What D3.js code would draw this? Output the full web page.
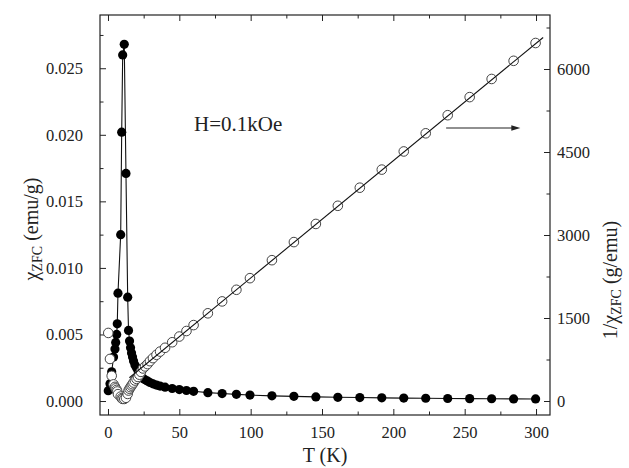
<!DOCTYPE html>
<html><head><meta charset="utf-8">
<script src="https://cdn.jsdelivr.net/npm/d3@7/dist/d3.min.js"></script>
<style>
html,body{margin:0;padding:0;background:#fff;}
svg{display:block;}
text{font-family:'Liberation Serif','Times New Roman',Times,Tinos,'DejaVu Serif','Noto Serif',serif;fill:#222;}
</style></head>
<body>
<svg id="chart" width="629" height="468"></svg>
<script>
// ---- data ----
const temps = [0.2,1.4,2.6,3.9,4.9,5.4,6.1,6.5,7.0,8.9,9.6,10.3,11.4,12.6,13.8,14.4,15.1,15.8,16.5,17.2,17.9,18.9,20.0,21.0,22.0,23.1,24.5,26.0,27.7,29.4,31.5,34.0,36.5,40,45,50,55,60,70,80,90,99.5,114.9,130.3,145.7,161.1,176.5,191.9,207.3,222.7,238.1,253.5,268.9,284.3,299.7];
const chiZFC = [0.00078,0.0013,0.0022,0.0033,0.0039,0.0044,0.0050,0.0058,0.0081,0.0125,0.0202,0.0260,0.0268,0.0171,0.0078,0.0053,0.0045,0.0040,0.0036,0.0033,0.0030,0.0027,0.0025,0.0023,0.0021,0.0019,0.0017,0.0016,0.0015,0.00139,0.00129,0.0012,0.00112,0.00104,0.00094,0.00086,0.00079,0.00073,0.00063,0.00056,0.0005,0.00045,0.00039,0.00035,0.00031,0.00028,0.00026,0.00024,0.00022,0.00021,0.00019,0.00018,0.00017,0.00016,0.000155];
const invChi = [1230,760,455,300,255,228,200,172,124,80,50,38,37,58,128,189,222,250,278,303,333,370,400,435,476,526,588,625,667,720,775,835,893,962,1062,1165,1265,1372,1585,1800,2010,2220,2545,2872,3200,3528,3855,4182,4510,4838,5165,5492,5820,6148,6470];
const fitT = [15, 305];
const fitInv = [420, 6570];
const xTicks = [0,50,100,150,200,250,300];
const xMinor = [25,75,125,175,225,275];
const yLTicks = [0,0.005,0.010,0.015,0.020,0.025];
const yLMinor = [0.0025,0.0075,0.0125,0.0175,0.0225,0.0275];
const yRTicks = [0,1500,3000,4500,6000];
const yRMinor = [750,2250,3750,5250,6750];
const annText = "H=0.1kOe";
const annPos = [60.3, 0.0203];        // T, chi
const arrowT = [237, 289];           // T range
const arrowInv = 4934;               // 1/chi level

// ---- layout ----
const FONT = "'Liberation Serif','Times New Roman',Times,Tinos,'DejaVu Serif','Noto Serif',serif";
const L = 100, R = 550, T0 = 15, B = 415;
const svg = d3.select("#chart");
const x = d3.scaleLinear().domain([-5.6, 309.8]).range([L, R]);
const yL = d3.scaleLinear().domain([-0.00105, 0.0290]).range([B, T0]);
const yR = d3.scaleLinear().domain([-253, 6976]).range([B, T0]);

const FS = 16.5;
function styleAxis(g){
  g.attr("font-family", FONT).attr("font-size", FS);
  g.select(".domain").remove();
  g.selectAll(".tick line").attr("stroke","#222").attr("stroke-width",1);
  g.selectAll(".tick text").attr("fill","#222");
}
// bottom
svg.append("g").attr("transform",`translate(0,${B})`)
  .call(d3.axisBottom(x).tickValues(xTicks).tickSize(-6).tickSizeOuter(0).tickPadding(11).tickFormat(d3.format("d"))).call(styleAxis);
svg.append("g").attr("transform",`translate(0,${B})`)
  .call(d3.axisBottom(x).tickValues(xMinor).tickSize(-3.5).tickSizeOuter(0).tickFormat("")).call(styleAxis);
// top
svg.append("g").attr("transform",`translate(0,${T0})`)
  .call(d3.axisTop(x).tickValues(xTicks).tickSize(-6).tickSizeOuter(0).tickFormat("")).call(styleAxis);
svg.append("g").attr("transform",`translate(0,${T0})`)
  .call(d3.axisTop(x).tickValues(xMinor).tickSize(-3.5).tickSizeOuter(0).tickFormat("")).call(styleAxis);
// left
svg.append("g").attr("transform",`translate(${L},0)`)
  .call(d3.axisLeft(yL).tickValues(yLTicks).tickSize(-6).tickSizeOuter(0).tickPadding(17).tickFormat(d3.format(".3f"))).call(styleAxis);
svg.append("g").attr("transform",`translate(${L},0)`)
  .call(d3.axisLeft(yL).tickValues(yLMinor).tickSize(-3.5).tickSizeOuter(0).tickFormat("")).call(styleAxis);
// right
svg.append("g").attr("transform",`translate(${R},0)`)
  .call(d3.axisRight(yR).tickValues(yRTicks).tickSize(-6).tickSizeOuter(0).tickPadding(7).tickFormat(d3.format("d"))).call(styleAxis);
svg.append("g").attr("transform",`translate(${R},0)`)
  .call(d3.axisRight(yR).tickValues(yRMinor).tickSize(-3.5).tickSizeOuter(0).tickFormat("")).call(styleAxis);

// frame
svg.append("rect").attr("x",L).attr("y",T0).attr("width",R-L).attr("height",B-T0)
  .attr("fill","none").attr("stroke","#222").attr("stroke-width",1.2);

const data = temps.map((t,i)=>({t, c:chiZFC[i], inv:invChi[i]}));

// chi line + filled points
svg.append("path").datum(data)
  .attr("d", d3.line().x(d=>x(d.t)).y(d=>yL(d.c)))
  .attr("fill","none").attr("stroke","#111").attr("stroke-width",1.1);
svg.append("g").selectAll("circle").data(data).join("circle")
  .attr("cx",d=>x(d.t)).attr("cy",d=>yL(d.c)).attr("r",4.6).attr("fill","#000");

// 1/chi open points
svg.append("g").selectAll("circle").data(data).join("circle")
  .attr("cx",d=>x(d.t)).attr("cy",d=>yR(d.inv)).attr("r",4.8)
  .attr("fill","#fff").attr("stroke","#444").attr("stroke-width",1);

// Curie-Weiss fit line
svg.append("path").datum(fitT.map((t,i)=>({t, v:fitInv[i]})))
  .attr("d", d3.line().x(d=>x(d.t)).y(d=>yR(d.v)))
  .attr("fill","none").attr("stroke","#111").attr("stroke-width",1.1);

// annotation
svg.append("text").attr("x",x(annPos[0])).attr("y",yL(annPos[1]))
  .attr("font-family",FONT).attr("font-size",21).text(annText);
const ay = yR(arrowInv), ax0 = x(arrowT[0]), ax1 = x(arrowT[1]);
svg.append("line").attr("x1",ax0).attr("x2",ax1-6).attr("y1",ay).attr("y2",ay)
  .attr("stroke","#222").attr("stroke-width",1.2);
svg.append("path").attr("d",`M${ax1},${ay} L${ax1-9},${ay-2.8} L${ax1-9},${ay+2.8} Z`).attr("fill","#222");

// axis titles
svg.append("text").attr("x",(L+R)/2).attr("y",462).attr("text-anchor","middle")
  .attr("font-family",FONT).attr("font-size",20).text("T (K)");
const lt = svg.append("text").attr("transform","translate(38,229) rotate(-90)")
  .attr("text-anchor","middle").attr("font-family",FONT).attr("font-size",20);
lt.append("tspan").text("χ");
lt.append("tspan").attr("dy",4).attr("font-size",14).text("ZFC");
lt.append("tspan").attr("dy",-4).text(" (emu/g)");
const rt = svg.append("text").attr("transform","translate(617,280) rotate(-90)")
  .attr("text-anchor","middle").attr("font-family",FONT).attr("font-size",20);
rt.append("tspan").text("1/χ");
rt.append("tspan").attr("dy",4).attr("font-size",14).text("ZFC");
rt.append("tspan").attr("dy",-4).text(" (g/emu)");
</script>
</body></html>
